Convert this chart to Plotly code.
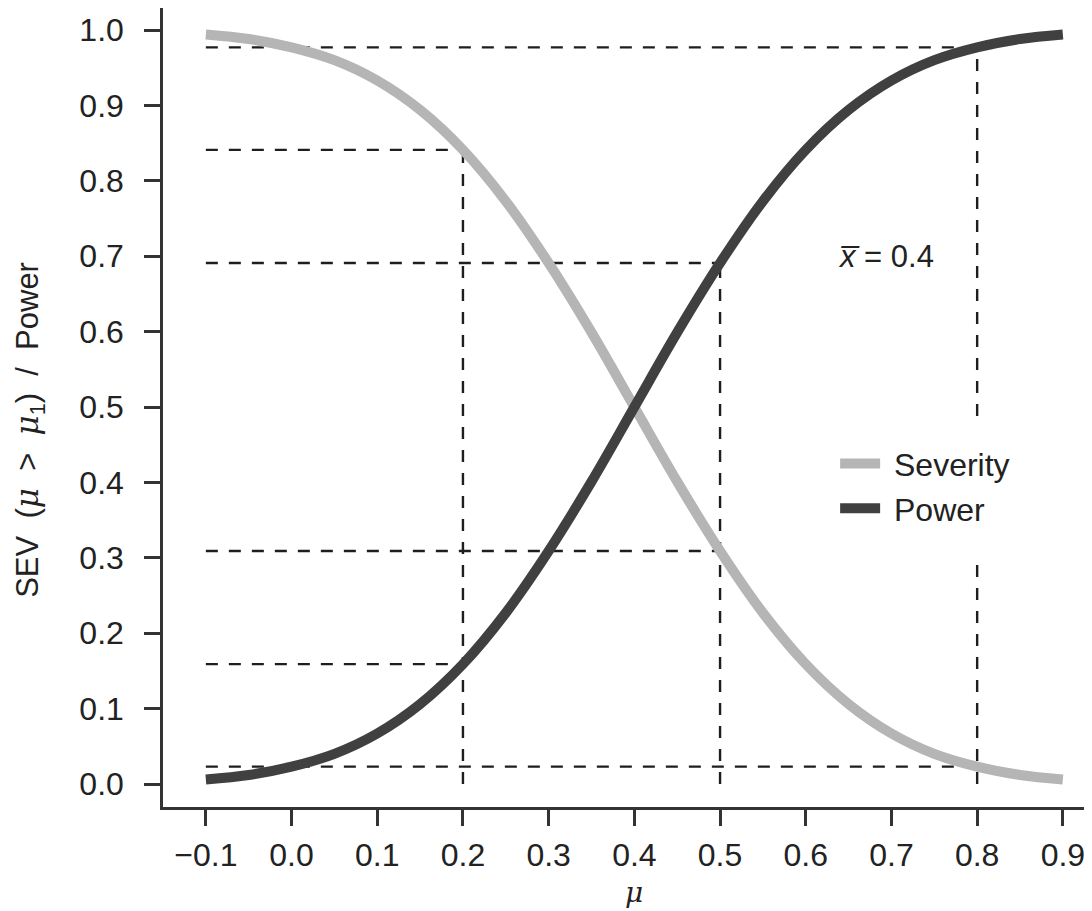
import plotly.graph_objects as go

# ---- data ----
mu = [-0.10, -0.05, 0.00, 0.05, 0.10, 0.15, 0.20, 0.25, 0.30, 0.35, 0.40,
      0.45, 0.50, 0.55, 0.60, 0.65, 0.70, 0.75, 0.80, 0.85, 0.90]
severity = [0.994, 0.988, 0.977, 0.960, 0.933, 0.894, 0.841, 0.773, 0.691, 0.599, 0.500,
            0.401, 0.309, 0.227, 0.159, 0.106, 0.067, 0.040, 0.023, 0.012, 0.006]
power = [0.006, 0.012, 0.023, 0.040, 0.067, 0.106, 0.159, 0.227, 0.309, 0.401, 0.500,
         0.599, 0.691, 0.773, 0.841, 0.894, 0.933, 0.960, 0.977, 0.988, 0.994]

ref_mu = [0.2, 0.5, 0.8]
ref_sev = [0.841, 0.309, 0.023]
ref_pow = [0.159, 0.691, 0.977]

x_ticks = [-0.1, 0.0, 0.1, 0.2, 0.3, 0.4, 0.5, 0.6, 0.7, 0.8, 0.9]
y_ticks = [0.0, 0.1, 0.2, 0.3, 0.4, 0.5, 0.6, 0.7, 0.8, 0.9, 1.0]
x_tick_text = ["\u22120.1", "0.0", "0.1", "0.2", "0.3", "0.4", "0.5", "0.6", "0.7", "0.8", "0.9"]
y_tick_text = ["0.0", "0.1", "0.2", "0.3", "0.4", "0.5", "0.6", "0.7", "0.8", "0.9", "1.0"]
xbar_label = "<i>x\u0305</i> = 0.4"
NB = "\u00a0"
MU = '<span style="font-family:DejaVu Serif"><i>\u03bc</i></span>'
y_title = ("SEV" + NB * 2 + "(" + MU + NB * 2 + ">" + NB * 2 + MU + "<sub>1</sub>)"
           + NB * 2 + "/" + NB * 2 + "Power")
x_title = "<i>\u03bc</i>"

FONT = "Liberation Sans, Arial, sans-serif"
DASH = dict(color="#1e1e1e", width=2.4, dash="12px,11px")

fig = go.Figure()

# dashed guide lines (horizontal from left, vertical from 0)
for xr, s, p in zip(ref_mu, ref_sev, ref_pow):
    for v in (s, p):
        fig.add_trace(go.Scatter(x=[mu[0], xr], y=[v, v], mode="lines", line=DASH,
                                 showlegend=False, hoverinfo="skip"))
    fig.add_trace(go.Scatter(x=[xr, xr], y=[0, max(s, p)], mode="lines", line=DASH,
                             showlegend=False, hoverinfo="skip"))

fig.add_trace(go.Scatter(x=mu, y=severity, mode="lines", name=NB + "Severity",
                         line=dict(color="#b5b5b5", width=10, shape="spline")))
fig.add_trace(go.Scatter(x=mu, y=power, mode="lines", name=NB + "Power",
                         line=dict(color="#404040", width=10, shape="spline")))

# white legend background covering the guide line
fig.add_shape(type="rect", xref="x", yref="y", x0=0.72, x1=0.93, y0=0.30, y1=0.48,
              fillcolor="white", line=dict(width=0), layer="above")

fig.add_annotation(x=0.694, y=0.699, xref="x", yref="y", text=xbar_label, showarrow=False,
                   font=dict(family=FONT, size=31, color="#222222"))

# axis titles as annotations
fig.add_annotation(x=-0.1432, y=0.472, xref="paper", yref="paper", text=y_title,
                   showarrow=False, textangle=-90, xanchor="center", yanchor="middle",
                   font=dict(family=FONT, size=31, color="#222222"))
fig.add_annotation(x=0.507, y=-0.1076, xref="paper", yref="paper", text=x_title,
                   showarrow=False, xanchor="center", yanchor="middle",
                   font=dict(family="DejaVu Serif", size=28, color="#222222"))

# page body has an 8px margin: figure is 8px smaller and offsets compensate
fig.update_layout(
    width=1084, height=903,
    margin=dict(l=155, r=0, t=0, b=104, autoexpand=False),
    paper_bgcolor="white", plot_bgcolor="white",
    font=dict(family=FONT, size=32, color="#222222"),
    showlegend=True,
    legend=dict(x=0.7235, y=0.464, xanchor="left", yanchor="top",
                bgcolor="rgba(0,0,0,0)", font=dict(size=32, color="#222222"),
                itemwidth=40, tracegroupgap=0),
    xaxis=dict(range=[-0.15, 0.934], tickvals=x_ticks, ticktext=x_tick_text,
               showgrid=False, zeroline=False, showline=True, mirror=True,
               linecolor="#333333", linewidth=2.5, ticks="outside", ticklen=16,
               tickwidth=2.5, tickcolor="#333333", automargin=False,
               ticklabelstandoff=2),
    yaxis=dict(range=[-0.0305, 1.0292], tickvals=y_ticks, ticktext=y_tick_text,
               showgrid=False, zeroline=False, showline=True, mirror=False,
               linecolor="#333333", linewidth=2.5, ticks="outside", ticklen=16,
               tickwidth=2.5, tickcolor="#333333", automargin=False,
               ticklabelstandoff=14),
)

fig.write_html("out.html")
